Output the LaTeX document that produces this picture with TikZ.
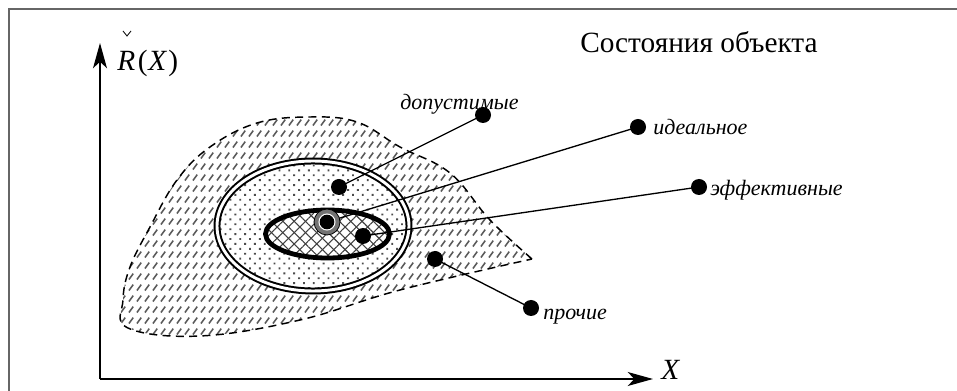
\documentclass[tikz,border=0pt]{standalone}
\usepackage{fontspec}
\setmainfont{Liberation Serif}
\usetikzlibrary{patterns,patterns.meta,arrows.meta}
\pgfdeclarepattern{
  name=slashrows,
  type=uncolored,
  bottom left={\pgfpoint{0pt}{0pt}},
  top right={\pgfpoint{6pt}{8.3pt}},
  tile size={\pgfpoint{6pt}{8.3pt}},
  code={
    \pgfsetlinewidth{1.3pt}
    \pgfpathmoveto{\pgfpoint{0.8pt}{1.2pt}}
    \pgfpathlineto{\pgfpoint{4.4pt}{6.0pt}}
    \pgfusepath{stroke}
  }
}
\tikzset{
  frameline/.style={draw=black!60, line width=1.5pt},
  axisline/.style={line width=1.1pt, -{Stealth[length=19pt,width=10.5pt,inset=5pt]}},
  conn/.style={line width=1pt},
  bigdot/.style={circle, fill=black, inner sep=0pt, minimum size=12pt},
  lab/.style={font=\fontsize{16.5}{19}\selectfont\itshape, inner sep=0pt},
  title/.style={font=\fontsize{22}{25}\selectfont, inner sep=0pt},
}
\begin{document}
\begin{tikzpicture}[x=0.75pt,y=-0.75pt]
\useasboundingbox (0,0) rectangle (957,391);
% frame
\draw[frameline] (8.5,391) -- (8.5,9.5) -- (957,9.5);
% outer region
\def\outerpath{plot[smooth, tension=0.65] coordinates {(532,259) (490,220) (450,173) (400,147) (357,122) (310,117) (257,123) (210,147) (177,180) (150,227) (130,267) (123,300) (128,328) (200,336) (300,320) (400,290) (532,259)}}
\fill[pattern=slashrows, pattern color=black!65] \outerpath;
\draw[dashed, dash pattern=on 6pt off 4pt, line width=1.1pt] \outerpath;
% middle ellipse
\fill[white] (313,226) ellipse [x radius=97, y radius=66];
\fill[pattern={Dots[distance=5.2pt, radius=1pt, angle=45]}, pattern color=black!70] (313,226) ellipse [x radius=97, y radius=66];
\draw[line width=1.5pt, double, double distance=2.2pt] (313,226) ellipse [x radius=96, y radius=65];
% inner ellipse
\fill[white] (327.5,234) ellipse [x radius=62, y radius=24];
\fill[pattern={Lines[angle=45, distance=6pt, line width=0.8pt]}, pattern color=black!75] (327.5,234) ellipse [x radius=62, y radius=24];
\fill[pattern={Lines[angle=-45, distance=6pt, line width=0.8pt]}, pattern color=black!75] (327.5,234) ellipse [x radius=62, y radius=24];
\draw[line width=3.6pt] (327.5,234) ellipse [x radius=62, y radius=24];
% points
\coordinate (pDop) at (339,187);
\coordinate (pId) at (327,222);
\coordinate (pEf) at (363,236);
\coordinate (pPr) at (435,259);
\coordinate (qDop) at (483,115);
\coordinate (qId) at (638,127);
\coordinate (qEf) at (699,187);
\coordinate (qPr) at (531,308);
% connectors
\draw[conn] (pDop) -- (qDop);
\draw[conn] (pId) -- (qId);
\draw[conn] (pEf) -- (qEf);
\draw[conn] (pPr) -- (qPr);
% dots
\node[bigdot] (dDop) at (pDop) {};
\node[bigdot] (dEf) at (pEf) {};
\node[bigdot] (dPr) at (pPr) {};
\node[bigdot] (eDop) at (qDop) {};
\node[bigdot] (eId) at (qId) {};
\node[bigdot] (eEf) at (qEf) {};
\node[bigdot] (ePr) at (qPr) {};
\node[circle, fill=black!55, draw=black, line width=0.6pt, inner sep=0pt, minimum size=19.5pt] (ringId) at (pId) {};
\node[circle, fill=white, inner sep=0pt, minimum size=12.8pt] (gapId) at (pId) {};
\node[circle, fill=black, inner sep=0pt, minimum size=11pt] (coreId) at (pId) {};
% axes
\coordinate (orig) at (100,379);
\coordinate (ytip) at (100,43);
\coordinate (xtip) at (653,379);
\draw[axisline] (orig) -- (ytip);
\draw[axisline] (orig) -- (xtip);
% labels
\node[title, anchor=base west] (rlab) at (117,71) {\textit{R}\kern2pt(\kern0.5pt\textit{X}\kern1pt)};
\draw[line width=0.6pt] ([shift={(6,-40)}]rlab.base west) -- ([shift={(10,-35)}]rlab.base west) -- ([shift={(14,-40)}]rlab.base west);
\node[title, anchor=base west] (xlab) at (661,380) {\textit{X}};
\node[title, anchor=base west] (tlab) at (580,53) {Состояния объекта};
\node[lab, anchor=base west] (lDop) at (400,110) {допустимые};
\node[lab, anchor=base west] (lId) at (653,135) {идеальное};
\node[lab, anchor=base west] (lEf) at (710,196) {эффективные};
\node[lab, anchor=base west] (lPr) at (543,320) {прочие};
\end{tikzpicture}
\end{document}
